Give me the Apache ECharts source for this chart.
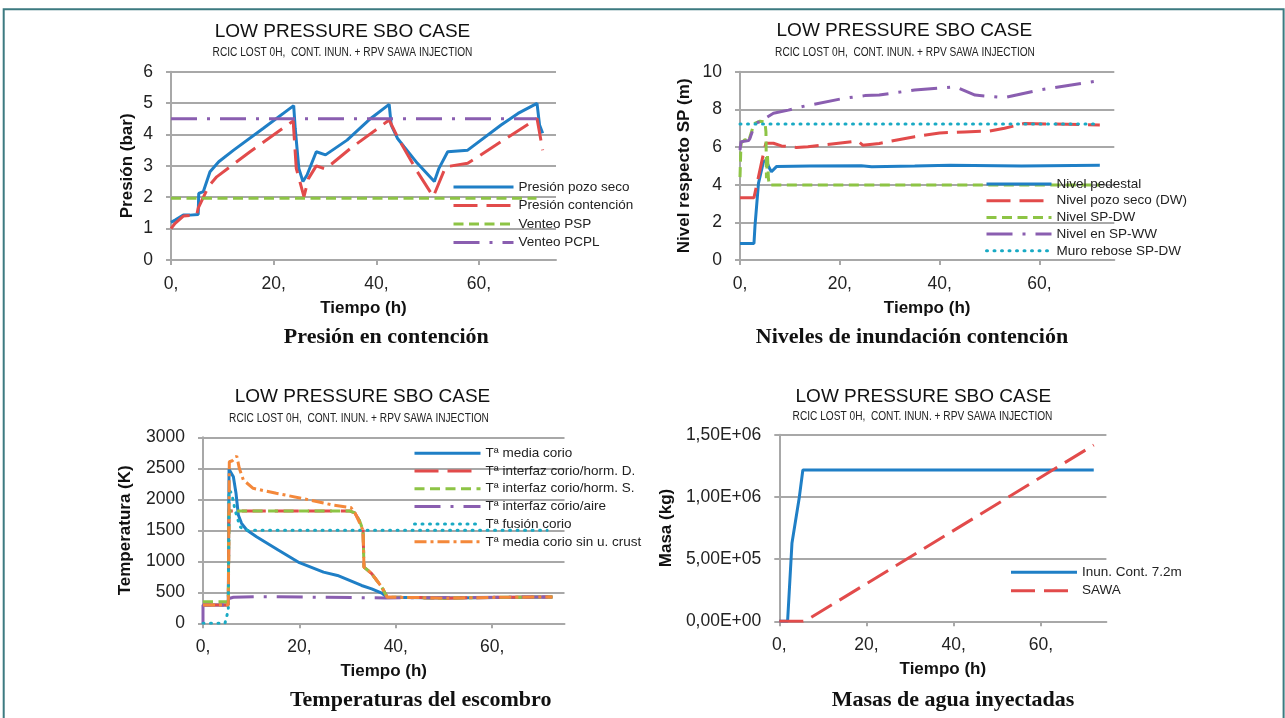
<!DOCTYPE html>
<html>
<head>
<meta charset="utf-8">
<script src="https://cdn.jsdelivr.net/npm/echarts@6/dist/echarts.min.js"></script>
<style>
html,body{margin:0;padding:0;background:#fff;}
#c{width:1285px;height:718px;}
</style>
</head>
<body>
<div id="c"></div>
<script>
// ---------------- DATA ----------------
const xTicks = [0, 20, 40, 60];
const xMax = 75;

// Chart 1: Presión en contención (bar)
const presionPozoSeco = [[0,1.2],[0.8,1.27],[2.4,1.43],[3.7,1.43],[5.3,1.45],[5.4,2.12],[6.3,2.18],[7.6,2.81],[9.3,3.13],[12.2,3.5],[18,4.2],[23.9,4.92],[24.2,4.19],[24.9,2.92],[25.7,2.5],[26.5,2.71],[28.3,3.45],[30.1,3.35],[34.3,3.82],[38.9,4.51],[42.5,4.96],[42.9,4.3],[44.1,3.88],[45.4,3.61],[48,3.08],[51.3,2.5],[52.2,2.92],[53.9,3.45],[57.8,3.5],[64.3,4.3],[67.6,4.67],[71.3,4.99],[71.8,4.3],[72.4,4.04]];
const presionContencion = [[0,1.0],[0.8,1.17],[2.4,1.4],[5,1.43],[5.3,1.65],[7.3,2.34],[8.9,2.65],[15.4,3.45],[23.8,4.43],[24.4,2.92],[25.9,2.02],[26.8,2.6],[28.3,3.0],[30.1,2.9],[35,3.56],[42.5,4.46],[44.1,3.93],[46.1,3.35],[48,2.81],[51.1,2.02],[53.5,2.97],[57.8,3.08],[64.3,3.77],[71.3,4.51],[72.4,3.5]];
const venteoPSP = [[0,1.97],[71.2,1.97]];
const venteoPCPL = [[0,4.5],[71.2,4.5]];

// Chart 2: Niveles de inundación (m)
const nivelPedestal = [[0,0.88],[2.8,0.88],[3.0,1.8],[3.7,4.07],[4.7,5.22],[5.2,5.3],[5.9,4.87],[6.3,4.69],[7.3,4.96],[14,4.99],[24.3,5.0],[26.4,4.95],[35,4.99],[42.1,5.03],[56.4,4.99],[72.1,5.03]];
const nivelPozoSeco = [[0,3.31],[2.8,3.31],[5.0,6.02],[5.2,6.2],[6.7,6.2],[8.3,6.06],[11.3,5.98],[13.6,6.02],[23.6,6.32],[24.6,6.1],[27.9,6.19],[35,6.55],[40,6.75],[45,6.8],[50,6.85],[53,7.0],[57,7.25],[72.1,7.17]];
const nivelSPDW = [[0,4.4],[0.2,6.2],[1.0,6.4],[1.7,6.3],[2.3,6.8],[2.8,7.24],[4.0,7.37],[5.0,7.33],[5.2,6.8],[5.3,4.34],[5.5,5.6],[5.7,4.3],[5.9,3.98],[72.1,3.98]];
const nivelSPWW = [[0,5.84],[0.2,6.28],[1.7,6.34],[2,6.46],[2.7,7.0],[3.3,7.3],[4.7,7.36],[5,7.52],[6.7,7.79],[9.7,7.96],[12.3,8.14],[20.7,8.58],[25,8.73],[27.9,8.76],[35,9.03],[43.2,9.2],[47.1,8.76],[52.9,8.62],[60,9.03],[71.4,9.5]];
const muroRebose = [[0,7.22],[72,7.22]];

// Chart 3: Temperaturas (K)
const tMediaCorio = [[0,295],[5.25,295],[5.4,2484],[6.3,2365],[6.85,2097],[7.33,1747],[8.0,1613],[9.06,1505],[11.1,1397],[15.6,1182],[20,977],[25,826],[27.9,772],[32.9,610],[35,556],[37.1,486],[38.2,421],[50,410],[72.5,425]];
const tInterfazD = [[0,295],[5.25,295],[5.4,1810],[30.5,1810],[31.5,1780],[32.5,1650],[33.2,1500],[33.4,907],[35,800],[37.1,583],[38.2,421],[45,415],[50,405],[60,418],[72.5,425]];
const tInterfazS = [[0,348],[5.25,348],[5.4,1810],[30.5,1810],[31.5,1780],[32.5,1650],[33.2,1500],[33.4,907],[35,800],[37.1,583],[38.2,421],[45,415],[50,405],[60,418],[72.5,425]];
const tInterfazAire = [[0,0],[0,295],[5.25,295],[5.4,400],[6.3,419],[11.9,429],[23.6,421],[37.9,410],[72.5,425]];
const tFusionCorio = [[0,0],[4.56,0],[5.25,215],[5.4,2150],[5.95,2100],[6.64,1827],[7.68,1558],[8.37,1516],[9.3,1500],[71.4,1500]];
const tMediaSinCrust = [[0,295],[5.25,295],[5.46,2606],[6.1,2622],[7.0,2698],[7.53,2500],[8.37,2311],[10.4,2177],[15.2,2097],[20.7,2013],[27.1,1905],[30.7,1867],[31.6,1770],[33.2,1500],[33.4,907],[35,800],[37.1,583],[38.2,421],[45,415],[50,405],[60,418],[72.5,425]];

// Chart 4: Masas de agua inyectadas (kg)
const inunCont = [[0,0],[1.9,0],[2.9,627000],[4.6,1000000],[5.4,1216000],[72.1,1216000]];
const sawa = [[0,0],[5.5,0],[6.4,12000],[72.1,1417000]];

const chartTitle = 'LOW PRESSURE SBO CASE';
const chartSubtitle = 'RCIC LOST 0H,  CONT. INUN. + RPV SAWA INJECTION';
const captions = ['Presión en contención', 'Niveles de inundación contención', 'Temperaturas del escombro', 'Masas de agua inyectadas'];

// ---------------- STYLE ----------------
const SANS = '"Liberation Sans", Arial, sans-serif';
const SERIF = '"Liberation Serif", "Times New Roman", serif';
const GRID = '#a8a8a8';
const C = {blue:'#1f7fc6', red:'#e24b4b', green:'#8dc445', purple:'#8a5eb0', cyan:'#19aac4', orange:'#f4883a'};
const DASH = {solid:'solid', long:[24,9], dash:[10,5.5], ldd:[26,10,3,10], dot:[1,6.5], dd:[12,4,3,4]};

const grids = [
  {left:171, top:71.7, width:385, height:188.3},
  {left:740, top:71.7, width:374.3, height:188.3},
  {left:203, top:437.3, width:361.5, height:186},
  {left:779.3, top:434.7, width:327.1, height:186.6}
];

function sciFmt(v){
  if (v === 0) return '0,00E+00';
  const e = Math.floor(Math.log10(v) + 1e-9);
  const m = v / Math.pow(10, e);
  return m.toFixed(2).replace('.', ',') + 'E+' + String(e).padStart(2, '0');
}

const xAxes = grids.map((g, i) => ({
  type:'value', gridIndex:i, min:0, max:xMax, interval:20,
  name:'Tiempo (h)', nameLocation:'middle', nameGap:40,
  nameTextStyle:{fontFamily:SANS, fontWeight:'bold', fontSize:17, color:'#111'},
  axisLine:{show:true, lineStyle:{color:GRID, width:2}},
  axisTick:{show:true, length:5, lineStyle:{color:GRID, width:2}, customValues:xTicks},
  axisLabel:{fontFamily:SANS, fontSize:17.5, color:'#222', margin:15, customValues:xTicks, formatter:v => v + ','},
  splitLine:{show:false}
}));

const yCfg = [
  {min:0, max:6, interval:1, name:'Presión (bar)', gap:35, fmt:v => String(v)},
  {min:0, max:10, interval:2, name:'Nivel respecto SP (m)', gap:47, fmt:v => String(v)},
  {min:0, max:3000, interval:500, name:'Temperatura (K)', gap:69, fmt:v => String(v)},
  {min:0, max:1500000, interval:500000, name:'Masa (kg)', gap:104, fmt:sciFmt}
];
const yAxes = yCfg.map((c, i) => ({
  type:'value', gridIndex:i, min:c.min, max:c.max, interval:c.interval,
  name:c.name, nameLocation:'middle', nameGap:c.gap, nameRotate:90,
  nameTextStyle:{fontFamily:SANS, fontWeight:'bold', fontSize:17, color:'#111'},
  axisLine:{show:true, lineStyle:{color:GRID, width:2}},
  axisTick:{show:true, length:5, lineStyle:{color:GRID, width:2}},
  axisLabel:{fontFamily:SANS, fontSize:17.5, color:'#222', margin:18, formatter:c.fmt},
  splitLine:{show:true, lineStyle:{color:GRID, width:2}}
}));

function line(name, idx, data, color, dash, cap){
  return {
    type:'line', name, xAxisIndex:idx, yAxisIndex:idx, data,
    symbol:'none', showSymbol:false, smooth:false,
    lineStyle:{color, width:3, type:dash, cap:cap || 'butt'},
    itemStyle:{color}
  };
}

const series = [
  line('Presión pozo seco', 0, presionPozoSeco, C.blue, DASH.solid),
  line('Presión contención', 0, presionContencion, C.red, DASH.long),
  line('Venteo PSP', 0, venteoPSP, C.green, DASH.dash),
  line('Venteo PCPL', 0, venteoPCPL, C.purple, DASH.ldd),

  line('Nivel pedestal', 1, nivelPedestal, C.blue, DASH.solid),
  line('Nivel pozo seco (DW)', 1, nivelPozoSeco, C.red, DASH.long),
  line('Nivel SP-DW', 1, nivelSPDW, C.green, DASH.dash),
  line('Nivel en SP-WW', 1, nivelSPWW, C.purple, DASH.ldd),
  line('Muro rebose SP-DW', 1, muroRebose, C.cyan, DASH.dot, 'round'),

  line('Tª media corio', 2, tMediaCorio, C.blue, DASH.solid),
  line('Tª interfaz corio/horm. D.', 2, tInterfazD, C.red, DASH.long),
  line('Tª interfaz corio/horm. S.', 2, tInterfazS, C.green, DASH.dash),
  line('Tª interfaz corio/aire', 2, tInterfazAire, C.purple, DASH.ldd),
  line('Tª fusión corio', 2, tFusionCorio, C.cyan, DASH.dot, 'round'),
  line('Tª media corio sin u. crust', 2, tMediaSinCrust, C.orange, DASH.dd),

  line('Inun. Cont. 7.2m', 3, inunCont, C.blue, DASH.solid),
  line('SAWA', 3, sawa, C.red, DASH.long)
];

const legCfg = [
  {left:452, top:180, w:60, gap:4.5, names:['Presión pozo seco','Presión contención','Venteo PSP','Venteo PCPL']},
  {left:985, top:177, w:65, gap:2.7, names:['Nivel pedestal','Nivel pozo seco (DW)','Nivel SP-DW','Nivel en SP-WW','Muro rebose SP-DW']},
  {left:413, top:446.3, w:66, gap:3.7, names:['Tª media corio','Tª interfaz corio/horm. D.','Tª interfaz corio/horm. S.','Tª interfaz corio/aire','Tª fusión corio','Tª media corio sin u. crust']},
  {left:1009.5, top:565.3, w:66, gap:4.4, names:['Inun. Cont. 7.2m','SAWA']}
];
const legends = legCfg.map(l => ({
  orient:'vertical', left:l.left, top:l.top, padding:0,
  itemWidth:l.w, itemHeight:14, itemGap:l.gap, selectedMode:false,
  itemStyle:{opacity:0, color:'rgba(0,0,0,0)', borderWidth:0},
  lineStyle:{width:3},
  textStyle:{fontFamily:SANS, fontSize:13.5, color:'#222', lineHeight:14},
  data:l.names
}));

const titlePos = [
  {tx:342.5, ty:32, sx:342.5, sy:53, cx:386.3, cy:337.5},
  {tx:904.3, ty:31, sx:905, sy:53, cx:912, cy:337.5},
  {tx:362.5, ty:397, sx:359, sy:419, cx:420.7, cy:700},
  {tx:923.3, ty:397, sx:922.5, sy:417, cx:953, cy:700}
];
const graphics = [];
titlePos.forEach((p, i) => {
  graphics.push({type:'text', x:p.tx, y:p.ty, style:{text:chartTitle, fontFamily:SANS, fontSize:19, fill:'#111', align:'center', verticalAlign:'middle', textAlign:'center', textVerticalAlign:'middle'}});
  graphics.push({type:'text', x:p.sx, y:p.sy, scaleX:0.845, style:{text:chartSubtitle, fontFamily:SANS, fontSize:12, fill:'#222', align:'center', verticalAlign:'middle', textAlign:'center', textVerticalAlign:'middle'}});
  graphics.push({type:'text', x:p.cx, y:p.cy, style:{text:captions[i], fontFamily:SERIF, fontWeight:'bold', fontSize:22, fill:'#111', align:'center', verticalAlign:'middle', textAlign:'center', textVerticalAlign:'middle'}});
});
graphics.push({type:'polyline', shape:{points:[[3.7,720],[3.7,9.2],[1283.6,9.2],[1283.6,720]]}, style:{stroke:'#3c7a80', lineWidth:2, fill:null}});

const chart = echarts.init(document.getElementById('c'), null, {renderer:'canvas'});
chart.setOption({
  backgroundColor:'#ffffff',
  animation:false,
  grid:grids,
  xAxis:xAxes,
  yAxis:yAxes,
  legend:legends,
  series,
  graphic:graphics
});
</script>
</body>
</html>
